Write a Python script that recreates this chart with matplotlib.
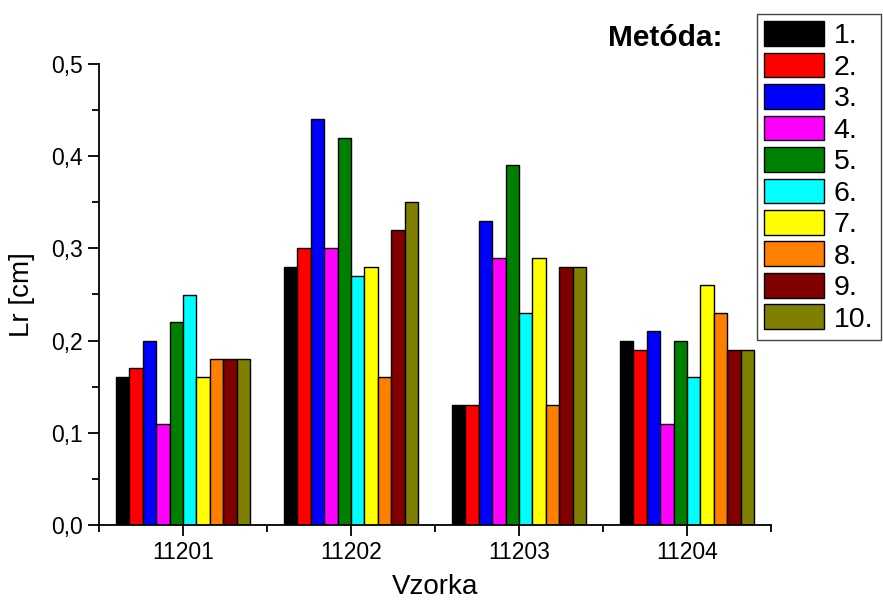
import matplotlib.pyplot as plt
import numpy as np
from matplotlib.ticker import MultipleLocator, FuncFormatter

plt.rcParams['font.family'] = ['Liberation Sans', 'DejaVu Sans']

# samples and methods
samples = ['11201', '11202', '11203', '11204']
methods = ['1.', '2.', '3.', '4.', '5.', '6.', '7.', '8.', '9.', '10.']
colors = ['#000000', '#FF0000', '#0000FF', '#FF00FF', '#008000',
          '#00FFFF', '#FFFF00', '#FF8000', '#800000', '#808000']

# Lr values per method (one list per method, across samples)
m1 = [0.16, 0.28, 0.13, 0.20]
m2 = [0.17, 0.30, 0.13, 0.19]
m3 = [0.20, 0.44, 0.33, 0.21]
m4 = [0.11, 0.30, 0.29, 0.11]
m5 = [0.22, 0.42, 0.39, 0.20]
m6 = [0.25, 0.27, 0.23, 0.16]
m7 = [0.16, 0.28, 0.29, 0.26]
m8 = [0.18, 0.16, 0.13, 0.23]
m9 = [0.18, 0.32, 0.28, 0.19]
m10 = [0.18, 0.35, 0.28, 0.19]
values = [m1, m2, m3, m4, m5, m6, m7, m8, m9, m10]

fig = plt.figure(figsize=(8.83, 6.03), dpi=100)
ax = fig.add_axes([99/883, 1 - 525/603, (771 - 99)/883, (525 - 64)/603])

x = np.arange(1, len(samples) + 1)
w = 0.08
handles = []
for i, (vals, c, lab) in enumerate(zip(values, colors, methods)):
    b = ax.bar(x - 0.4 + w/2 + i*w, vals, w, color=c, edgecolor='black',
               linewidth=1, label=lab)
    handles.append(b)

ax.set_xlim(0.5, 4.5)
ax.set_ylim(0, 0.5)
ax.set_xticks(x)
ax.set_xticklabels(samples)
ax.xaxis.set_minor_locator(MultipleLocator(1.0, offset=0.5))
ax.yaxis.set_major_locator(MultipleLocator(0.1))
ax.yaxis.set_minor_locator(MultipleLocator(0.05))
ax.yaxis.set_major_formatter(FuncFormatter(lambda v, p: f'{v:.1f}'.replace('.', ',')))

for s in ['top', 'right']:
    ax.spines[s].set_visible(False)
for s in ['left', 'bottom']:
    ax.spines[s].set_linewidth(1.3)
ax.tick_params(which='major', direction='out', length=8, width=1.3, labelsize=16.5)
ax.tick_params(which='minor', direction='out', length=5, width=1.3)

ax.set_xlabel('Vzorka', fontsize=20, labelpad=7)
ax.set_ylabel('Lr [cm]', fontsize=20, labelpad=12)

leg = fig.legend(handles=handles, loc='upper left',
                 bbox_to_anchor=(757/883, 1 - 14/603), fontsize=20.5,
                 handlelength=2.1, handleheight=0.95, labelspacing=0.12,
                 handletextpad=0.35, borderpad=0.25, borderaxespad=0,
                 fancybox=False, framealpha=1, edgecolor='#444444')
leg.get_frame().set_linewidth(1)

fig.text(722/883, 1 - 38/603, 'Metóda:', fontsize=21.5, fontweight='bold',
         ha='right', va='center')

fig.savefig('out.png', dpi=100)
